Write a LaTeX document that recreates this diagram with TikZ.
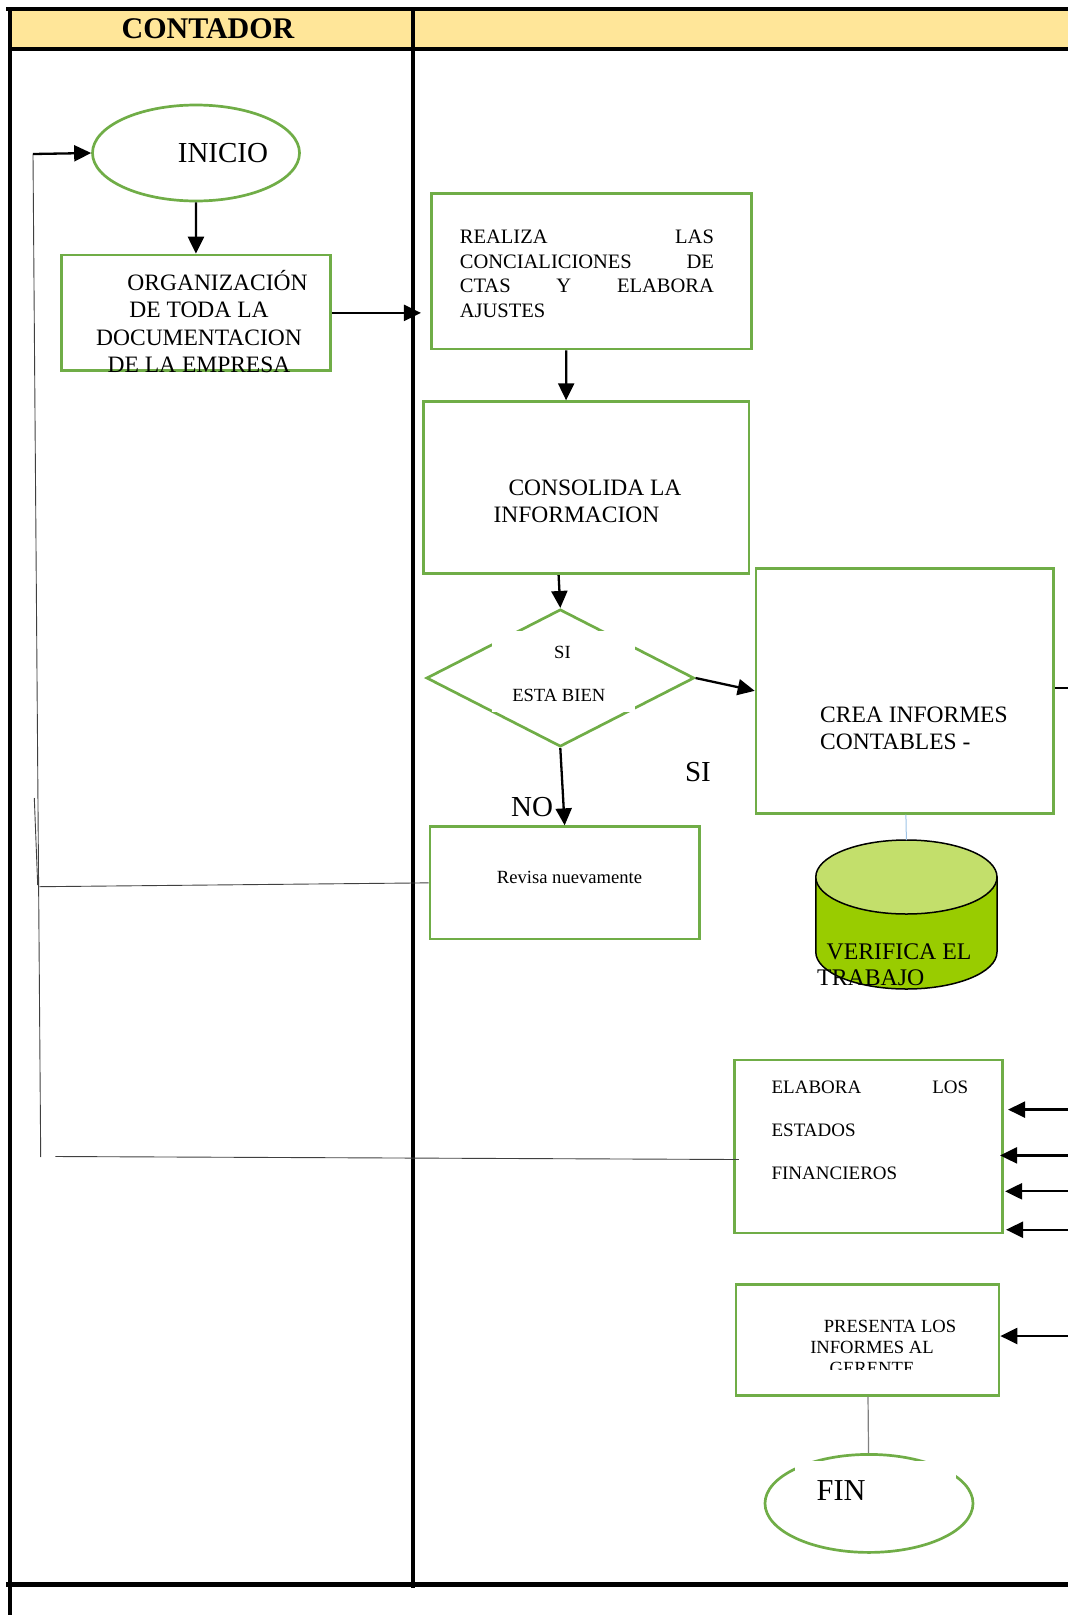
\documentclass[tikz,border=0pt]{standalone}
\usepackage{fontspec}
\setmainfont{Liberation Serif}
\usepackage{xcolor}
\usetikzlibrary{shapes.geometric,arrows.meta,calc}
\setlength{\parindent}{0pt}

\definecolor{boxgreen}{HTML}{70AD47}
\definecolor{headyellow}{HTML}{FFE699}
\definecolor{cyltop}{HTML}{C3DF6B}
\definecolor{cylbody}{HTML}{99CC00}
\definecolor{linkblue}{HTML}{9DC3E6}

\begin{document}
\begin{tikzpicture}[x=1pt, y=-1pt,
        box/.style={rectangle, draw=boxgreen, line width=2.7pt, inner sep=0pt},
        term/.style={ellipse, draw=boxgreen, line width=2.7pt, inner sep=0pt, minimum width=207pt, minimum height=96pt},
        arrow/.style={-{Triangle[length=17pt,width=16pt]}, line width=2.3pt},
        txt/.style={inner sep=0pt, align=center},
        fbline/.style={line width=0.9pt, draw=black!75},
        lane/.style={line width=4.5pt},
        fbig/.style={font=\fontsize{23.5pt}{27.3pt}\selectfont},
        fsmall/.style={font=\fontsize{18.6pt}{21pt}\selectfont},
        flabel/.style={font=\fontsize{29pt}{32pt}\selectfont}
    ]
        \useasboundingbox (0,0) rectangle (1068,1615);

        % Lanes
        \fill[headyellow] (10,9) rectangle (1068,49);
        \draw[lane] (6,9) -- (1068,9);
        \draw[lane] (10,49) -- (1068,49);
        \draw[lane] (10,7) -- (10,1615);
        \draw[lane] (413,7) -- (413,1588);
        \draw[lane] (6,1584.5) -- (1068,1584.5);
        \node[txt, font=\bfseries\fontsize{30pt}{32pt}\selectfont] (contador) at (208,29) {CONTADOR};

        % Start
        \node[term] (inicio) at (196,153) {};
        \node[txt, flabel] (inicio-txt) at (223,153.5) {INICIO};

        \node[box, minimum width=269pt, minimum height=115.7pt] (org) at (195.9,312.9) {};
        \node[txt, fbig] (org-txt) at (199,321.5) {\hspace*{37pt}ORGANIZACIÓN\\DE TODA LA\\DOCUMENTACION\\DE LA EMPRESA};

        \node[box, minimum width=320pt, minimum height=155.7pt] (realiza) at (591.3,271.2) {};
        \node[txt, align=left, text width=254pt, font=\fontsize{20.5pt}{24.5pt}\selectfont] (realiza-txt) at (586.9,274) {REALIZA\hfill LAS\\CONCIALICIONES\hfill DE\\CTAS\hfill Y\hfill ELABORA\\AJUSTES};

        \node[box, minimum width=325.5pt, minimum height=172pt] (consolida) at (586.1,487.7) {};
        \node[txt, fbig] (consolida-txt) at (576.5,501.6) {\hspace*{37pt}CONSOLIDA LA\\INFORMACION};

        % Decision
        \node[diamond, draw=boxgreen, line width=2.7pt, inner sep=0pt, minimum width=267.8pt, minimum height=137.4pt] (decision) at (560.3,678) {};
        \fill[white] (491.7,630.7) rectangle (634.5,711.7);
        \node[txt, fsmall] (decision-si) at (562.5,652.7) {SI};
        \node[txt, fsmall] (decision-txt) at (558.8,695) {ESTA BIEN};

        \node[box, minimum width=297.7pt, minimum height=245pt] (crea) at (904.9,690.8) {};
        \node[txt, fbig, align=left, anchor=west] (crea-txt) at (820,728.4) {CREA INFORMES\\CONTABLES -};
        \coordinate (crea-out) at (1068,688);

        \node[box, minimum width=269.5pt, minimum height=112.3pt] (revisa) at (564.65,882.85) {};
        \node[txt, fsmall] (revisa-txt) at (569.5,877.5) {Revisa nuevamente};

        \node[txt, flabel] (si-label) at (698,772.3) {SI};
        \node[txt, flabel] (no-label) at (532,806.7) {NO};

        % Cylinder
        \coordinate (verifica) at (906.4,840);
        \filldraw[fill=cylbody, line width=1.5pt] (815.8,877) -- (815.8,952) arc[start angle=180, end angle=360, x radius=90.6pt, y radius=37pt] -- (997,877) -- cycle;
        \filldraw[fill=cyltop, line width=1.5pt] (906.4,877) ellipse [x radius=90.6pt, y radius=37pt];
        \node[txt, align=left, anchor=west, font=\fontsize{23.8pt}{26pt}\selectfont] (verifica-txt) at (817,964.7) {\hspace*{9.4pt}VERIFICA EL\\TRABAJO};

        \node[box, minimum width=268.4pt, minimum height=173pt] (elabora) at (868.5,1146.5) {};
        \node[txt, align=left, text width=196.6pt, font=\fontsize{19pt}{43pt}\selectfont] (elabora-txt) at (869.9,1130.6) {ELABORA\hfill LOS\\ESTADOS\\FINANCIEROS};
        \coordinate (in-a) at (1068,1109.6);
        \coordinate (in-b) at (1068,1155.4);
        \coordinate (in-c) at (1068,1191.3);
        \coordinate (in-d) at (1068,1229.7);

        \node[box, minimum width=263pt, minimum height=111pt] (presenta) at (867.5,1339.8) {};
        \begin{scope}
            \clip (740,1290) rectangle (995,1369.5);
            \node[txt, fsmall] (presenta-txt) at (872,1347.6) {\hspace*{36pt}PRESENTA LOS\\INFORMES AL\\GERENTE};
        \end{scope}
        \coordinate (in-e) at (1068,1336);

        % End
        \node[term, minimum width=208pt, minimum height=98pt] (fin) at (869,1503.4) {};
        \fill[white] (795,1461) rectangle (956,1495);
        \node[txt, font=\fontsize{30.4pt}{32pt}\selectfont] (fin-txt) at (841.2,1490.5) {FIN};

        % Arrows
        \draw[arrow] (inicio) -- (org);
        \draw[arrow, shorten >=9pt] (org.east) -- (realiza.west |- org.east);
        \draw[arrow] ([xshift=-25pt]realiza.south) -- ([xshift=-20pt]consolida.north);
        \draw[arrow] ([xshift=-27.5pt]consolida.south) -- (decision.north);
        \draw[arrow] (decision.east) -- (crea.west);
        \draw[arrow] (decision.south) -- (revisa.north);
        \draw[line width=2.3pt] (crea.east |- crea-out) -- (crea-out);
        \draw[linkblue, line width=1pt] ([xshift=1pt]crea.south) -- (verifica);
        \draw[arrow, shorten >=4pt] (in-a) -- (elabora.east |- in-a);
        \draw[arrow, shorten >=-4pt] (in-b) -- (elabora.east |- in-b);
        \draw[arrow, shorten >=1pt] (in-c) -- (elabora.east |- in-c);
        \draw[arrow, shorten >=2pt] (in-d) -- (elabora.east |- in-d);
        \draw[arrow] (in-e) -- (presenta.east |- in-e);
        \draw[line width=1.2pt, draw=black!50] (presenta) -- (fin);

        % Feedback
        \coordinate (fb-top) at (33,154);
        \coordinate (fb-bot) at (40.7,1157);
        \coordinate (fb-mid) at (34.3,798);
        \coordinate (fb-mid2) at (37.7,885);
        \coordinate (fb-rev) at (39.3,886.7);
        \coordinate (fb-elab) at (55.3,1156.5);
        \draw[fbline] (fb-top) -- (fb-bot);
        \draw[fbline] (fb-mid) -- (fb-mid2);
        \draw[arrow] (fb-top) -- (inicio.west);
        \draw[fbline] (revisa.west) -- (fb-rev);
        \draw[fbline] ([xshift=6pt, yshift=-13pt]elabora.west) -- (fb-elab);
    \end{tikzpicture}
\end{document}
